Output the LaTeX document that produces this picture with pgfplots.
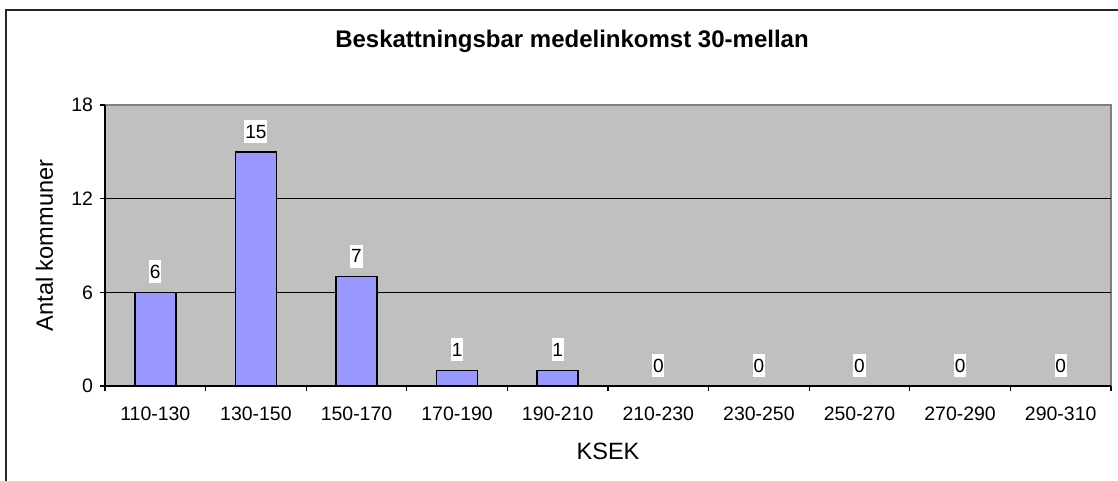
\documentclass[border=0pt]{standalone}
\usepackage{fontspec}
\setmainfont{Liberation Sans}
\usepackage{pgfplots}
\pgfplotsset{compat=1.18}
\definecolor{barblue}{HTML}{9999FF}
\definecolor{plotgray}{HTML}{C0C0C0}
\definecolor{boxgray}{HTML}{808080}
\begin{document}
\begin{tikzpicture}
\path[use as bounding box] (-78.75pt,-71.25pt) rectangle (759.75pt,289.5pt);
\draw[line width=1.2pt,black!85] (-74.25pt,-71.25pt) -- (-74.25pt,282pt) -- (759.75pt,282pt);
\begin{axis}[
  at={(0,0)}, anchor=south west,
  scale only axis,
  width=754.5pt, height=210.75pt,
  xmin=-0.5, xmax=9.5,
  ymin=0, ymax=18,
  axis x line*=bottom, axis y line*=left,
  axis line style={black, line width=0.9pt, -},
  axis background/.style={fill=plotgray, draw=boxgray, line width=0.9pt},
  ybar, bar width=30.75pt,
  xtick={-0.5,0.5,...,9.5},
  xticklabels={},
  extra x ticks={0,...,9},
  extra x tick labels={110-130,130-150,150-170,170-190,190-210,210-230,230-250,250-270,270-290,290-310},
  extra x tick style={major tick length=0pt},
  tick align=outside,
  major tick length=4pt,
  tick style={black, line width=0.8pt},
  ytick={0,6,12},
  extra y ticks={18},
  extra y tick style={grid=none},
  ymajorgrids,
  grid style={black, line width=0.8pt},
  /pgf/number format/assume math mode=true,
  ticklabel style={font=\fontsize{14.6pt}{16pt}\selectfont},
  xticklabel style={yshift=-12pt},
  yticklabel style={xshift=-1.5pt},
  xlabel={KSEK},
  ylabel={Antal kommuner},
  label style={font=\fontsize{17.7pt}{20pt}\selectfont},
  xlabel style={at={(axis description cs:0.5,-0.2598)}, anchor=base},
  ylabel style={at={(axis description cs:-0.0517,0.5)}, anchor=base},
  nodes near coords,
  nodes near coords style={font=\fontsize{14.3pt}{16pt}\selectfont, fill=white, inner xsep=0.6pt, inner ysep=3.5pt, text height=10.3pt, text depth=0pt, anchor=center, yshift=15.5pt},
]
\addplot[fill=barblue, draw=black, line width=1.1pt] coordinates {
  (0,6) (1,15) (2,7) (3,1) (4,1) (5,0) (6,0) (7,0) (8,0) (9,0)
};
\end{axis}
\node[anchor=base, font=\bfseries\fontsize{18pt}{21pt}\selectfont] at (350.25pt,253.5pt) {Beskattningsbar medelinkomst 30-mellan};
\end{tikzpicture}
\end{document}
